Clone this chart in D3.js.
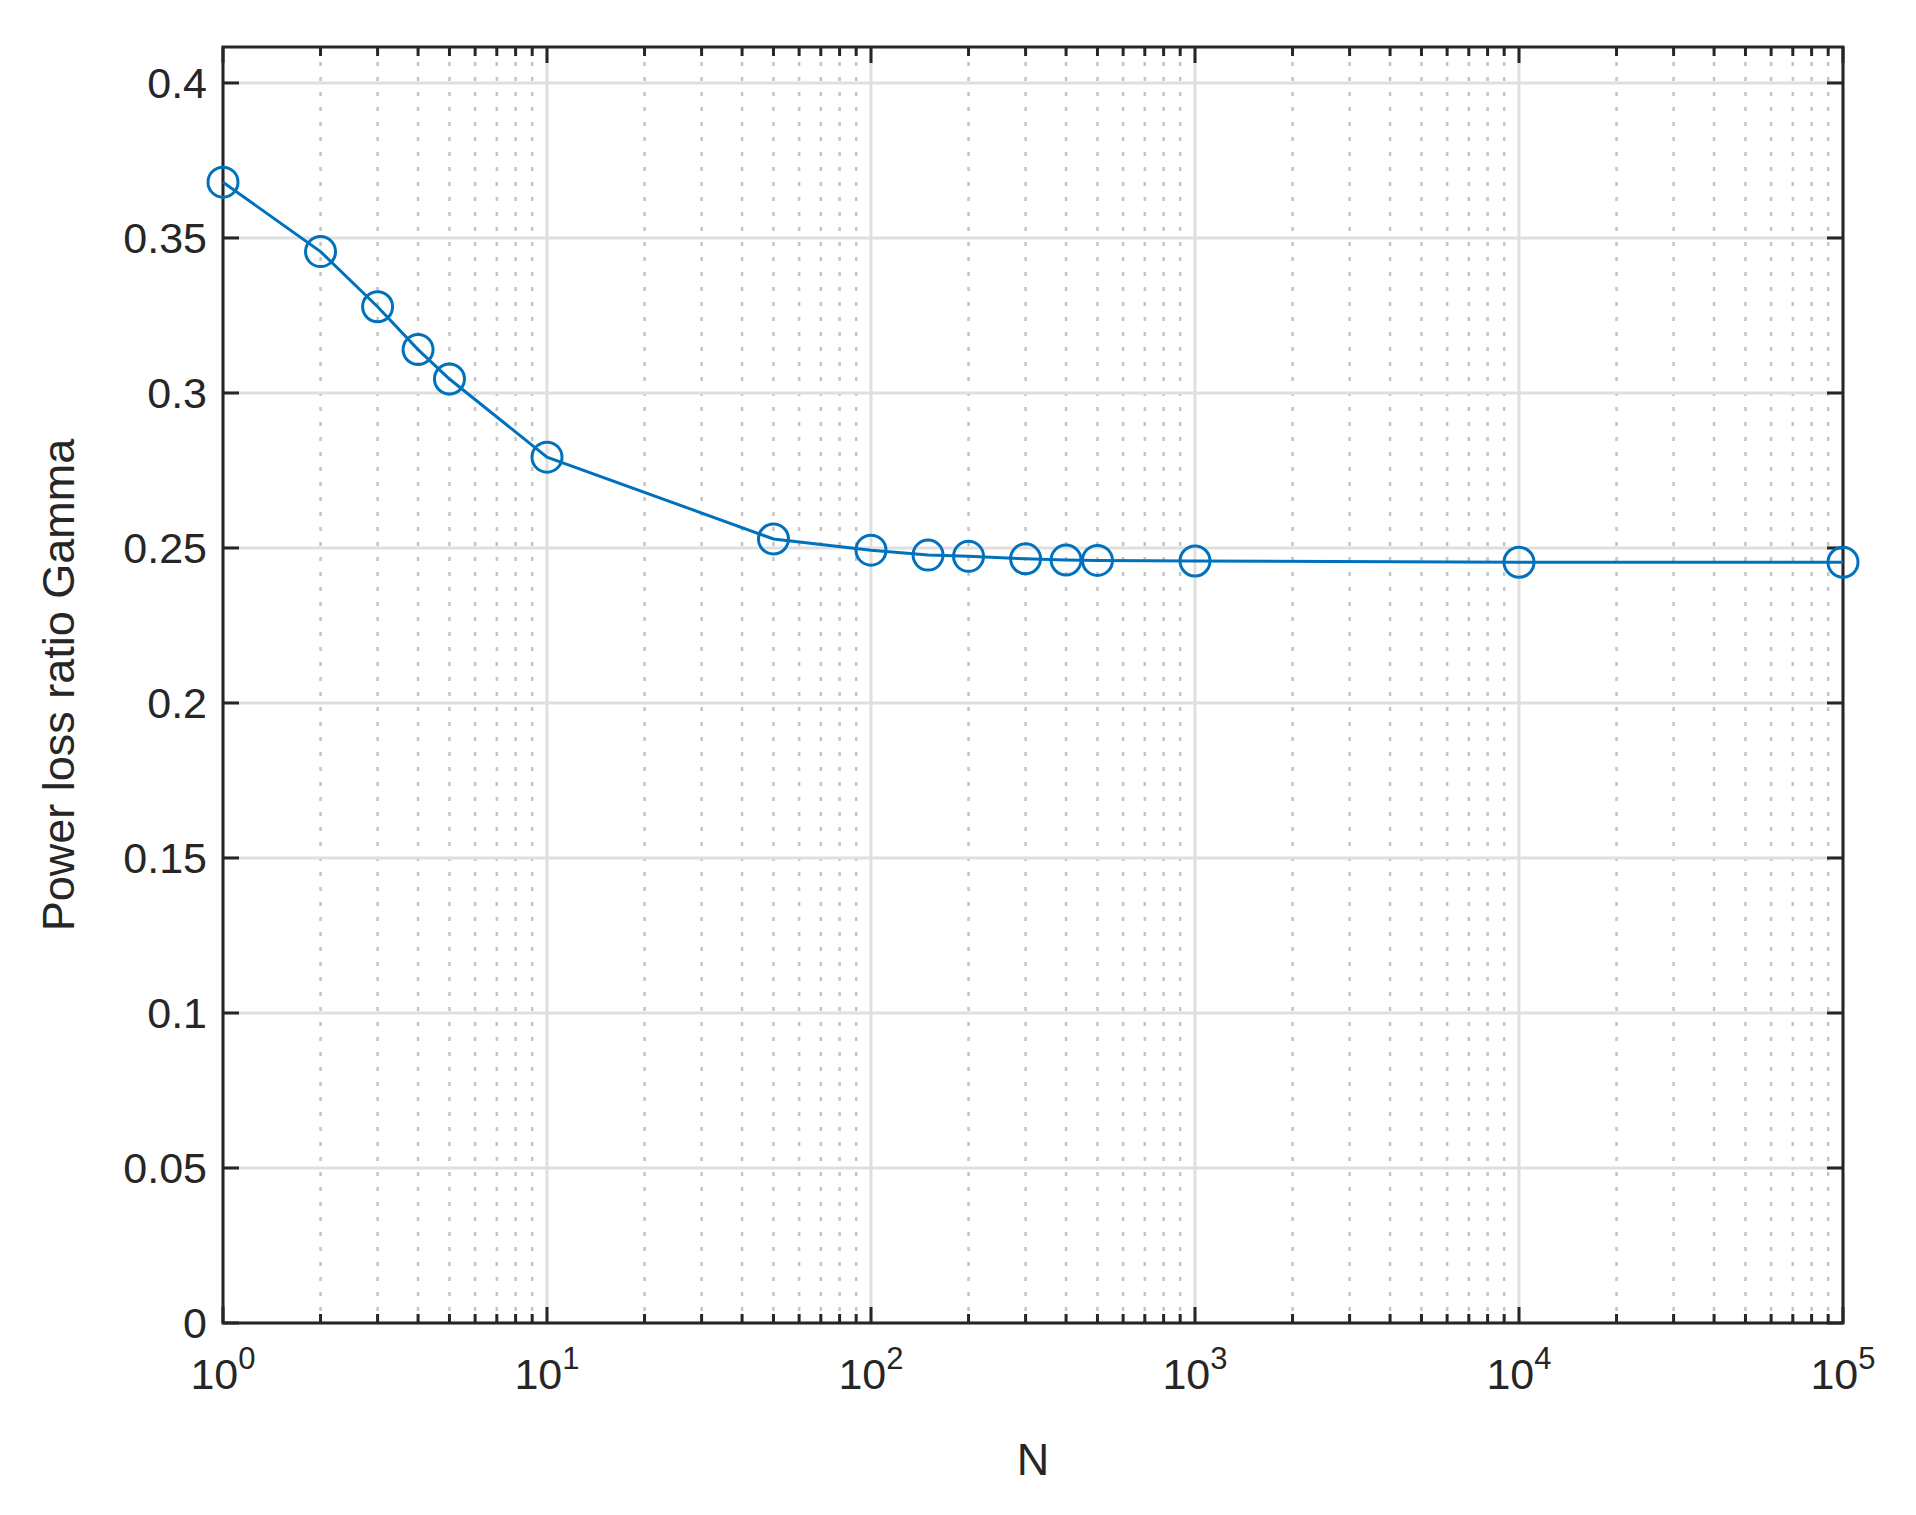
<!DOCTYPE html>
<html><head><meta charset="utf-8">
<script src="https://d3js.org/d3.v7.min.js"></script>
<style>body{margin:0;background:#fff}svg{display:block}text{font-family:Arial,"Liberation Sans",sans-serif;fill:#262626}</style>
</head><body><svg id="c" width="1916" height="1515"></svg>
<script>
const nValues=[1,2,3,4,5,10,50,100,150,200,300,400,500,1000,10000,100000];
const gammaValues=[0.368,0.3456,0.3278,0.314,0.3045,0.2793,0.2529,0.2493,0.2477,0.2473,0.2465,0.2461,0.246,0.2458,0.2454,0.2454];
const yTicks=[0,0.05,0.1,0.15,0.2,0.25,0.3,0.35,0.4];
const xMajor=[1,10,100,1000,10000,100000];
const xLabel="N", yLabel="Power loss ratio Gamma";

const L=223,R=1843,T=47,B=1323;
const svg=d3.select("#c");
const x=d3.scaleLog().domain([1,1e5]).range([L,R]);
const y=d3.scaleLinear().domain([0,0.4116]).range([B,T]);
const minor=[];for(let e=0;e<5;e++)for(let k=2;k<=9;k++)minor.push(k*Math.pow(10,e));

const g=svg.append("g");
g.selectAll(".mn").data(minor).join("line").attr("x1",d=>x(d)).attr("x2",d=>x(d)).attr("y1",T).attr("y2",B)
 .attr("stroke","#c4c4c4").attr("stroke-width",2.5).attr("stroke-dasharray","4,11");
g.selectAll(".mj").data(xMajor).join("line").attr("x1",d=>x(d)).attr("x2",d=>x(d)).attr("y1",T).attr("y2",B)
 .attr("stroke","#dfdfdf").attr("stroke-width",3);
g.selectAll(".yg").data(yTicks).join("line").attr("x1",L).attr("x2",R).attr("y1",d=>y(d)).attr("y2",d=>y(d))
 .attr("stroke","#dfdfdf").attr("stroke-width",3);

const ax=svg.append("g").attr("stroke","#262626").attr("stroke-width",3);
yTicks.forEach(v=>{ax.append("line").attr("x1",L).attr("x2",L+16).attr("y1",y(v)).attr("y2",y(v));
 ax.append("line").attr("x1",R).attr("x2",R-16).attr("y1",y(v)).attr("y2",y(v));});
xMajor.forEach(v=>{ax.append("line").attr("x1",x(v)).attr("x2",x(v)).attr("y1",B).attr("y2",B-16);
 ax.append("line").attr("x1",x(v)).attr("x2",x(v)).attr("y1",T).attr("y2",T+16);});
minor.forEach(v=>{ax.append("line").attr("x1",x(v)).attr("x2",x(v)).attr("y1",B).attr("y2",B-9);
 ax.append("line").attr("x1",x(v)).attr("x2",x(v)).attr("y1",T).attr("y2",T+9);});
svg.append("rect").attr("x",L).attr("y",T).attr("width",R-L).attr("height",B-T).attr("fill","none").attr("stroke","#262626").attr("stroke-width",3);

const pts=nValues.map((n,i)=>[n,gammaValues[i]]);
svg.append("path").datum(pts).attr("d",d3.line().x(d=>x(d[0])).y(d=>y(d[1])))
 .attr("fill","none").attr("stroke","#0072BD").attr("stroke-width",3);
svg.selectAll(".pt").data(pts).join("circle").attr("cx",d=>x(d[0])).attr("cy",d=>y(d[1])).attr("r",15)
 .attr("fill","none").attr("stroke","#0072BD").attr("stroke-width",3);

svg.selectAll(".yl").data(yTicks).join("text").attr("x",L-16).attr("y",d=>y(d)).attr("dy","0.36em")
 .attr("text-anchor","end").attr("font-size",43).text(d=>d===0?"0":String(d));
xMajor.forEach((v,i)=>{const t=svg.append("text").attr("x",x(v)).attr("y",B+66).attr("text-anchor","middle").attr("font-size",43);
 t.append("tspan").text("10");t.append("tspan").attr("dy",-20).attr("font-size",31).text(String(i));});
svg.append("text").attr("x",(L+R)/2).attr("y",B+152).attr("text-anchor","middle").attr("font-size",45).text(xLabel);
svg.append("text").attr("transform",`translate(74,${(T+B)/2}) rotate(-90)`).attr("text-anchor","middle").attr("font-size",45).text(yLabel);
</script></body></html>
